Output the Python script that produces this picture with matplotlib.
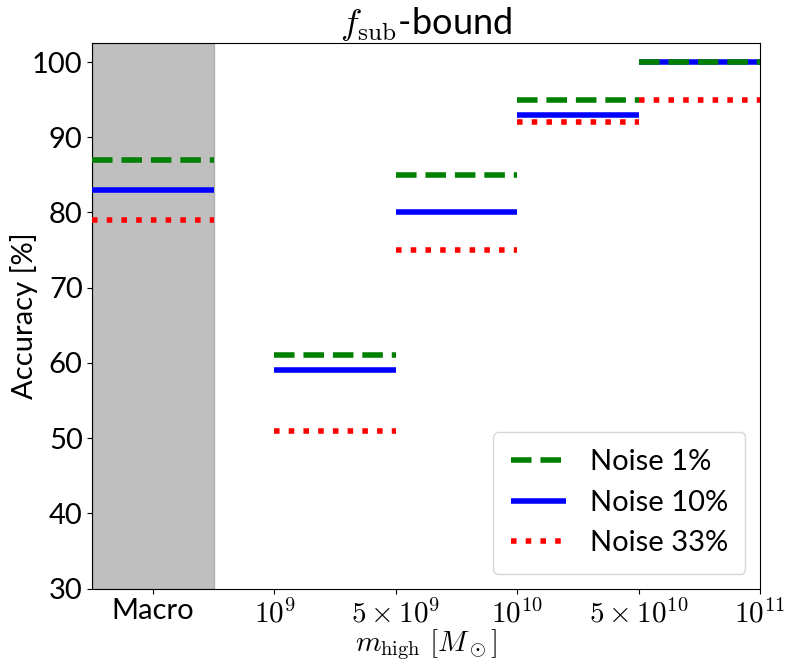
import matplotlib
matplotlib.use("Agg")
import matplotlib.pyplot as plt

plt.rcParams['mathtext.fontset'] = 'cm'
plt.rcParams['font.family'] = ['Lato', 'DejaVu Sans']

# bins along the x axis (index positions), Macro is its own bin
tick_labels = ['Macro', r'$10^{9}$', r'$5\times10^{9}$', r'$10^{10}$',
               r'$5\times10^{10}$', r'$10^{11}$']
bin_left = [-0.5, 1, 2, 3, 4]
bin_right = [0.5, 2, 3, 4, 5]

noise1 = [87, 61, 85, 95, 100]
noise10 = [83, 59, 80, 93, 100]
noise33 = [79, 51, 75, 92, 95]

fig, ax = plt.subplots(figsize=(7.9, 6.65), dpi=100)

ax.axvspan(-0.5, 0.5, color='grey', alpha=0.5)

# green drawn above blue (visible where both are at 100)
ax.hlines(noise1, bin_left, bin_right, colors='g', linestyles='--', lw=4, label='Noise 1%', zorder=4)
ax.hlines(noise10, bin_left, bin_right, colors='b', linestyles='-', lw=4, label='Noise 10%', zorder=3)
ax.hlines(noise33, bin_left, bin_right, colors='r', linestyles=':', lw=4, label='Noise 33%', zorder=3)

ax.set_xlim(-0.5, 5)
ax.set_ylim(30, 102.5)
ax.set_xticks(range(len(tick_labels)))
ax.set_xticklabels(tick_labels)
ax.tick_params(labelsize=21)

ax.set_title(r'$f_{\rm sub}$-bound', fontsize=26)
ax.set_ylabel('Accuracy [%]', fontsize=21)
ax.yaxis.set_label_coords(-0.082, 0.5)
ax.set_xlabel(r'$m_{\rm high}\ [M_\odot]$', fontsize=21, labelpad=0)

ax.legend(loc='lower right', fontsize=21, handlelength=1.9, borderpad=0.6)

plt.subplots_adjust(left=0.117, right=0.962, top=0.935, bottom=0.115)
plt.savefig('out.png')
